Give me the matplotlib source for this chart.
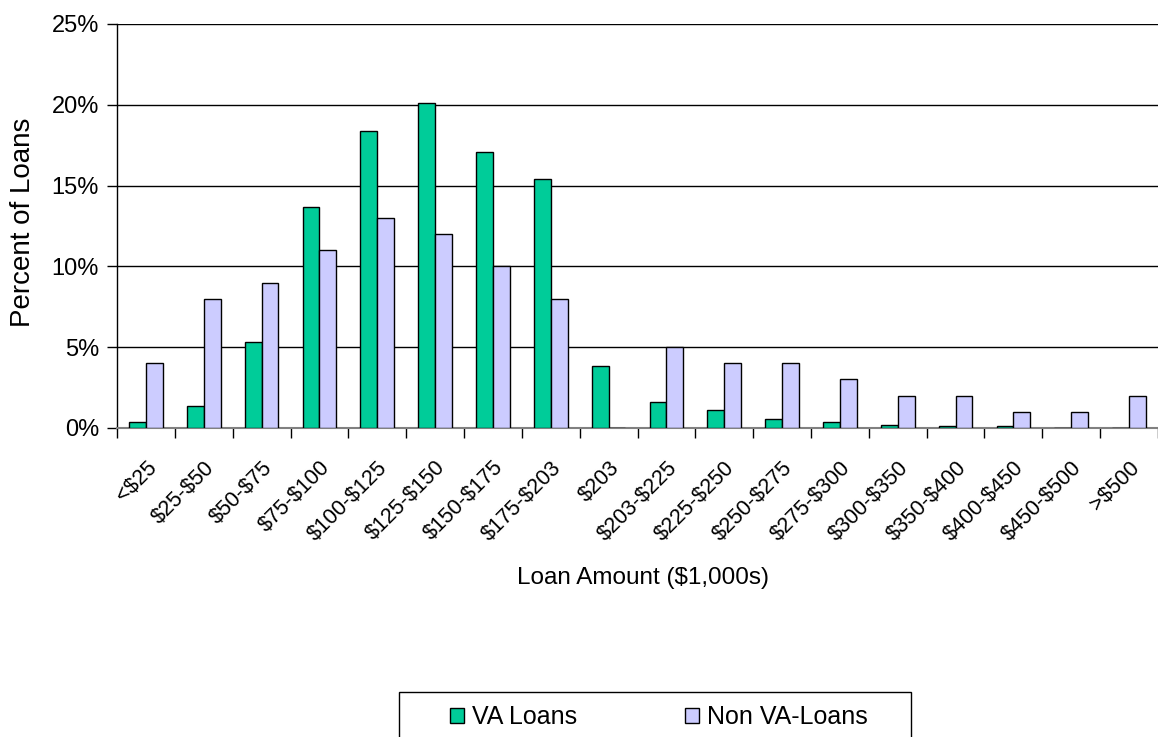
import matplotlib

matplotlib.use("Agg")
import matplotlib.pyplot as plt
import numpy as np
from matplotlib.patches import Rectangle
from matplotlib.ticker import FixedLocator, PercentFormatter

plt.rcParams["font.family"] = ["Liberation Sans", "DejaVu Sans"]

categories = [
    "<$25", "$25-$50", "$50-$75", "$75-$100", "$100-$125", "$125-$150",
    "$150-$175", "$175-$203", "$203", "$203-$225", "$225-$250", "$250-$275",
    "$275-$300", "$300-$350", "$350-$400", "$400-$450", "$450-$500", ">$500",
]
va_loans = [0.35, 1.35, 5.3, 13.7, 18.4, 20.1, 17.1, 15.4, 3.85, 1.6,
            1.13, 0.56, 0.35, 0.21, 0.1, 0.1, 0.0, 0.0]
non_va_loans = [4, 8, 9, 11, 13, 12, 10, 8, 0, 5, 4, 4, 3.05, 2, 2, 1, 1, 2]
y_ticks = [0, 5, 10, 15, 20, 25]

W, H = 1158, 737
fig = plt.figure(figsize=(W / 100, H / 100), dpi=100)
ax = fig.add_axes([117 / W, 1 - 428 / H, 1 - 117 / W, (428 - 24) / H])

x = np.arange(len(categories))
w = 0.29
ax.bar(x - w / 2, va_loans, w, color="#00CC99", edgecolor="black",
       linewidth=1, label="VA Loans", zorder=3)
ax.bar(x + w / 2, non_va_loans, w, color="#CCCCFF", edgecolor="black",
       linewidth=1, label="Non VA-Loans", zorder=3)

ax.set_xlim(-0.5, len(categories) - 0.5)
ax.set_ylim(0, 25)
ax.yaxis.set_major_locator(FixedLocator(y_ticks))
ax.yaxis.set_major_formatter(PercentFormatter(decimals=0))
ax.grid(axis="y", color="black", linewidth=1, zorder=0)

# escape dollar signs so they are not read as mathtext
ax.set_xticks(x)
ax.set_xticklabels([c.replace("$", r"\$") for c in categories], rotation=45,
                   ha="right", va="top", rotation_mode="anchor", fontsize=15.5)
ax.set_xticks(np.arange(-0.5, len(categories)), minor=True)
ax.tick_params(axis="x", which="major", length=0, pad=21)
ax.tick_params(axis="x", which="minor", length=7, width=1, direction="out")
ax.tick_params(axis="y", length=7, width=1, pad=6, labelsize=17)

for side in ("top", "right"):
    ax.spines[side].set_visible(False)
ax.spines["left"].set_linewidth(1)
ax.spines["bottom"].set_color("#808080")
ax.spines["bottom"].set_linewidth(1.5)

fig.text(23 / W, 1 - 222 / H, "Percent of Loans", fontsize=20, rotation=90,
         ha="center", va="center")
fig.text(643 / W, 1 - 578 / H, r"Loan Amount (\$1,000s)", fontsize=17.5,
         ha="center", va="center")

# legend frame runs off the bottom edge like the original
fig.patches.append(Rectangle((399 / W, -0.05), (911 - 399) / W,
                             0.05 + 1 - 692 / H, transform=fig.transFigure,
                             fill=False, edgecolor="black", linewidth=1))
fig.legend(loc="upper left", bbox_to_anchor=(450 / W, 1 - 705 / H),
           ncol=2, frameon=False, fontsize=18,
           handlelength=0.56, handleheight=0.56, handletextpad=0.32,
           columnspacing=4.3, borderpad=0, borderaxespad=0)

fig.savefig("out.png", dpi=100)
